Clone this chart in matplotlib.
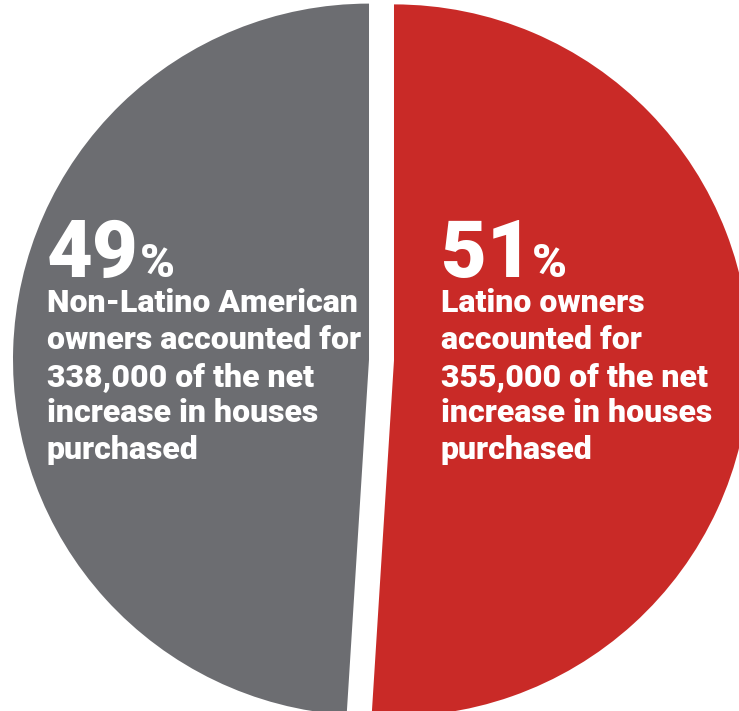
import matplotlib
matplotlib.use("Agg")
import matplotlib.pyplot as plt

# ── Data ───────────────────────────────────────────────────────────
groups = ["Latino owners", "Non-Latino American owners"]
shares = [51, 49]
houses = ["355,000", "338,000"]
colors = ["#C92A27", "#6C6D71"]

body_lines = [
    ["Latino owners", "accounted for", f"{houses[0]} of the net",
     "increase in houses", "purchased"],
    ["Non-Latino American", "owners accounted for", f"{houses[1]} of the net",
     "increase in houses", "purchased"],
]

# ── Layout (pixels, y measured from top) ───────────────────────────
W, H = 739, 711
CENTER = (381.5, H - 360)
RADIUS = 356
GAP = 12.5          # explode offset, data units (= px)
TEXT_X = [441, 47]
PCT_X = [532, 140]
NUM_BASE = 277
LINE0 = 312
LINE_STEP = 36.8

FONT = "Roboto"
WEIGHT = "black"

fig = plt.figure(figsize=(W / 100, H / 100), dpi=100)
ax = fig.add_axes([0, 0, 1, 1])

ax.pie(shares, colors=colors, startangle=90, counterclock=False,
       center=CENTER, radius=RADIUS, explode=[GAP, GAP],
       wedgeprops=dict(linewidth=0))

ax.set_xlim(0, W)
ax.set_ylim(0, H)
ax.set_aspect("equal")
ax.axis("off")

for i in range(len(shares)):
    ax.text(TEXT_X[i], H - NUM_BASE, f"{shares[i]}", fontsize=57,
            fontweight=WEIGHT, family=FONT, color="white",
            ha="left", va="baseline")
    ax.text(PCT_X[i], H - NUM_BASE, "%", fontsize=34,
            fontweight=WEIGHT, family=FONT, color="white",
            ha="left", va="baseline")
    for j, line in enumerate(body_lines[i]):
        ax.text(TEXT_X[i], H - (LINE0 + j * LINE_STEP), line, fontsize=23,
                fontweight=WEIGHT, family=FONT, color="white",
                ha="left", va="baseline")

fig.savefig("out.png", dpi=100, facecolor="white")
